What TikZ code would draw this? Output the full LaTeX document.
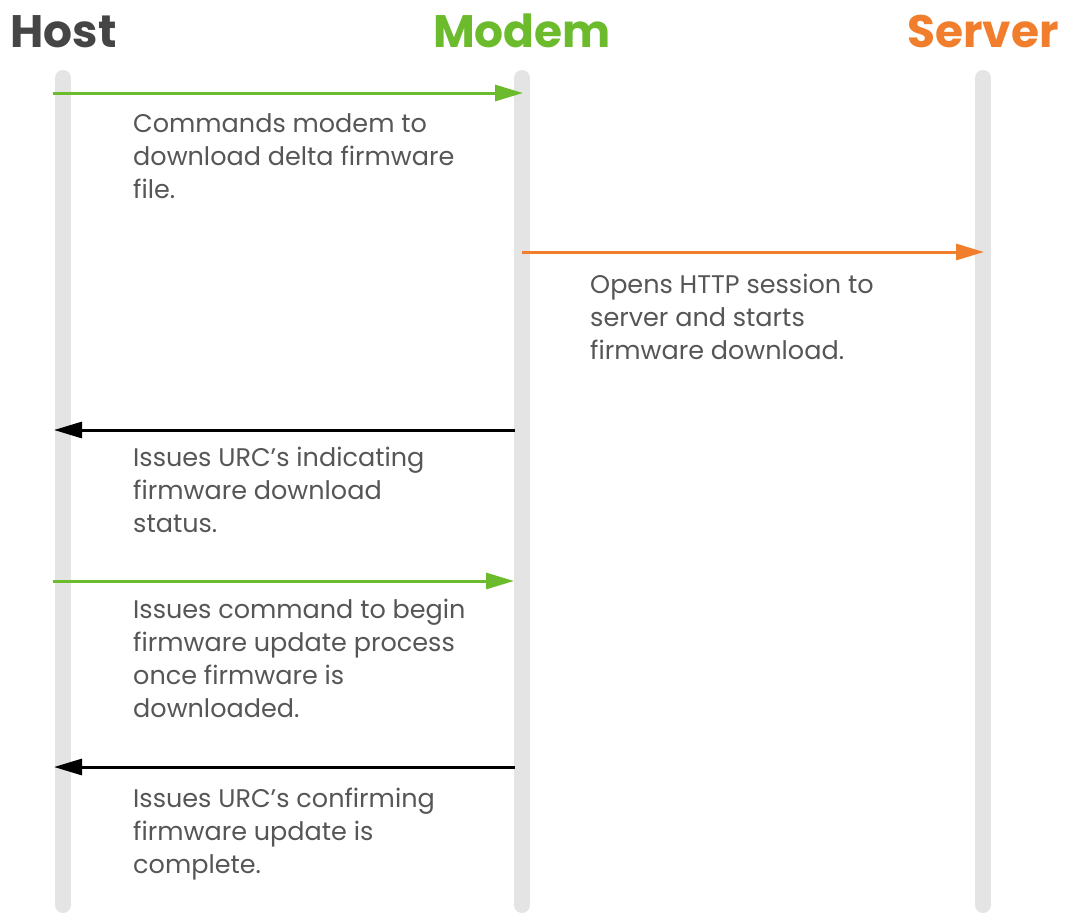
\documentclass[tikz,border=0pt]{standalone}
\usepackage{fontspec}
\setmainfont{Poppins}
\usetikzlibrary{arrows.meta}
\definecolor{mgreen}{HTML}{6CBB2C}
\definecolor{morange}{HTML}{F07E2C}
\definecolor{mhost}{HTML}{454545}
\definecolor{mtext}{HTML}{565656}
\definecolor{mlife}{HTML}{E4E4E4}
\begin{document}
\begin{tikzpicture}[x=1pt,y=-1pt,
  title/.style={font=\fontsize{45.5}{50}\selectfont\bfseries, inner sep=0, anchor=base},
  lifeline/.style={draw=mlife, line width=16pt, line cap=round},
  msg/.style={font=\fontsize{25.5}{33}\selectfont, text=mtext, align=left, inner sep=0, anchor=north west},
  arr/.style={line width=3pt, -{Triangle[length=28pt,width=16pt]}, shorten >=-1pt}
]
\useasboundingbox (0,0) rectangle (1065,914);
% titles
\node[title, text=mhost] (thost) at (63.5,47) {Host};
\node[title, text=mgreen] (tmodem) at (522,47) {Modem};
\node[title, text=morange] (tserver) at (983,47) {Server};
% lifelines
\coordinate (h0) at (63,78); \coordinate (h1) at (63,905);
\coordinate (m0) at (522,78); \coordinate (m1) at (522,905);
\coordinate (s0) at (983,78); \coordinate (s1) at (983,905);
\draw[lifeline] (h0) -- (h1);
\draw[lifeline] (m0) -- (m1);
\draw[lifeline] (s0) -- (s1);
% arrow endpoints
\coordinate (a1s) at (53,93);  \coordinate (a1e) at (522,93);
\coordinate (a2s) at (522,252); \coordinate (a2e) at (983,252);
\coordinate (a3s) at (515,430); \coordinate (a3e) at (55,430);
\coordinate (a4s) at (53,581);  \coordinate (a4e) at (513,581);
\coordinate (a5s) at (515,767); \coordinate (a5e) at (55,767);
\draw[arr, draw=mgreen] (a1s) -- (a1e);
\draw[arr, draw=morange] (a2s) -- (a2e);
\draw[arr, draw=black] (a3s) -- (a3e);
\draw[arr, draw=mgreen] (a4s) -- (a4e);
\draw[arr, draw=black] (a5s) -- (a5e);
% texts
\node[msg] (t1) at (133,113) {Commands modem to\\download delta firmware\\file.};
\node[msg] (t2) at (590,274) {Opens HTTP session to\\server and starts\\firmware download.};
\node[msg] (t3) at (133,447) {Issues URC’s indicating\\firmware download\\status.};
\node[msg] (t4) at (133,599) {Issues command to begin\\firmware update process\\once firmware is\\downloaded.};
\node[msg] (t5) at (133,788) {Issues URC’s confirming\\firmware update is\\complete.};
\end{tikzpicture}
\end{document}
